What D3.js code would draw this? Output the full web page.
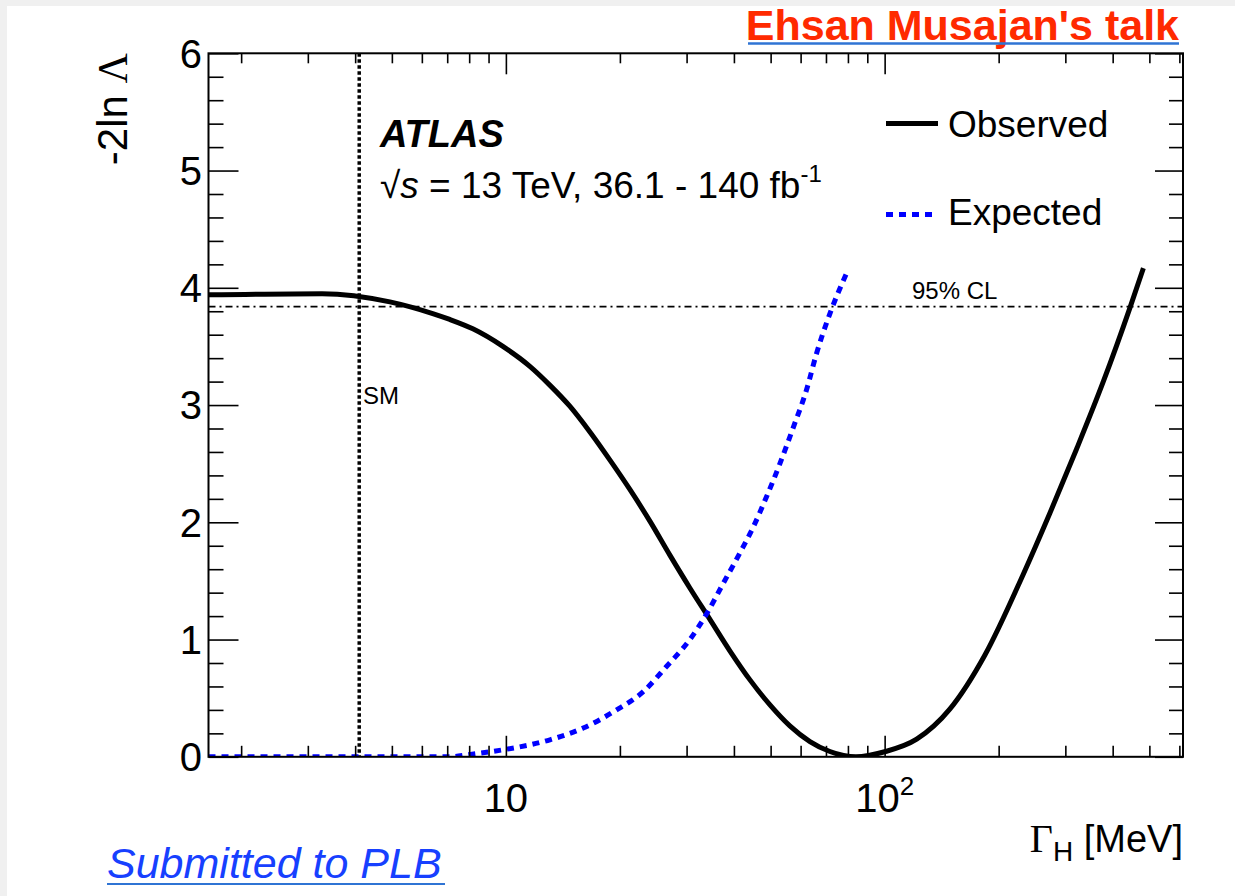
<!DOCTYPE html>
<html><head><meta charset="utf-8">
<script src="https://cdn.jsdelivr.net/npm/d3@7/dist/d3.min.js"></script>
<style>body{margin:0;background:#fff;} svg{display:block;font-family:"Liberation Sans",Arial,Helvetica,sans-serif;}</style>
</head><body>
<svg id="c" width="1235" height="896"></svg>
<script>
// ---- data ----
const obsGamma = [1.64, 3.27, 4.94, 6.41, 7.11, 8.18, 9.82, 11.57, 13.06, 14.75, 16.67, 18.83, 21.25, 24.0, 27.1, 30.6, 34.6, 39.1, 44.1, 49.8, 56.2, 63.5, 71.7, 84.0, 100, 121.5, 148.6, 184, 232, 273, 321, 378, 444, 482];
const obsNLL   = [3.94, 3.95, 3.88, 3.78, 3.73, 3.65, 3.50, 3.33, 3.17, 2.99, 2.77, 2.53, 2.28, 2.01, 1.72, 1.44, 1.17, 0.90, 0.656, 0.443, 0.264, 0.13, 0.045, 0.0, 0.043, 0.15, 0.406, 0.868, 1.553, 2.077, 2.623, 3.201, 3.827, 4.167];
const expGamma = [1.64, 7.11, 8.03, 9.84, 13.07, 16.0, 19.6, 23.05, 26.55, 30.6, 33.9, 37.5, 41.5, 45.0, 48.8, 52.9, 57.4, 62.2, 66.1, 71.7, 80.0];
const expNLL   = [0.0, 0.0, 0.02, 0.06, 0.145, 0.245, 0.40, 0.556, 0.77, 1.0, 1.22, 1.48, 1.74, 1.96, 2.22, 2.50, 2.81, 3.13, 3.44, 3.78, 4.15];
const yTickValues = [0, 1, 2, 3, 4, 5, 6];
const yTickLabels = ["0", "1", "2", "3", "4", "5", "6"];
const xMajorValues = [10, 100];
const xTickLabels = [{base: "10", sup: ""}, {base: "10", sup: "2"}];
const cl95 = 3.84;
const smWidth = 4.1;
const legendLabels = ["Observed", "Expected"];

// ---- layout ----
const L = 208.5, R = 1183, T = 53.3, B = 756.8;
const svg = d3.select("#c");
const x = d3.scaleLog().domain([1.64, 613.4]).range([L, R]);
const y = d3.scaleLinear().domain([0, 6]).range([B, T]);

// page background strips
svg.append("rect").attr("x", 0).attr("y", 0).attr("width", 1235).attr("height", 6).attr("fill", "#f0f0f0");
svg.append("rect").attr("x", 0).attr("y", 0).attr("width", 7).attr("height", 896).attr("fill", "#f0f0f0");

svg.append("clipPath").attr("id", "clip").append("rect")
  .attr("x", L).attr("y", T).attr("width", R - L).attr("height", B - T);
const plot = svg.append("g").attr("clip-path", "url(#clip)");

// 95% CL line
plot.append("line").attr("x1", L).attr("x2", R).attr("y1", y(cl95)).attr("y2", y(cl95))
  .attr("stroke", "#000").attr("stroke-width", 1.8).attr("stroke-dasharray", "7,4,2,4");
// SM line
plot.append("line").attr("x1", x(smWidth)).attr("x2", x(smWidth)).attr("y1", T).attr("y2", B)
  .attr("stroke", "#000").attr("stroke-width", 3.5).attr("stroke-dasharray", "3.5,2.5");

const line = d3.line().x(d => x(d[0])).y(d => y(d[1])).curve(d3.curveMonotoneX);
plot.append("path").datum(d3.zip(obsGamma, obsNLL)).attr("d", line)
  .attr("fill", "none").attr("stroke", "#000").attr("stroke-width", 5).attr("stroke-linejoin", "round");
plot.append("path").datum(d3.zip(expGamma, expNLL)).attr("d", line)
  .attr("fill", "none").attr("stroke", "#0000ff").attr("stroke-width", 5).attr("stroke-dasharray", "7,6");

// frame
svg.append("rect").attr("x", L).attr("y", T).attr("width", R - L).attr("height", B - T)
  .attr("fill", "none").attr("stroke", "#000").attr("stroke-width", 2);

// ticks via d3 axes
const xMinor = [];
[1, 10, 100].forEach(dec => { for (let k = 2; k <= 9; k++) { const v = k * dec; if (v > 1.64 && v < 613.4) xMinor.push(v); } });
const yMinor = d3.range(0, 30).map(i => i * 0.2).filter(v => Math.abs(v - Math.round(v)) > 1e-6);

function styleAxis(g) { g.select(".domain").remove(); g.selectAll("line").attr("stroke", "#000").attr("stroke-width", 1.6); g.selectAll("text").remove(); }
svg.append("g").attr("transform", `translate(0,${B})`).call(d3.axisTop(x).tickValues(xMajorValues).tickSize(21).tickFormat("")).call(styleAxis);
svg.append("g").attr("transform", `translate(0,${B})`).call(d3.axisTop(x).tickValues(xMinor).tickSize(11).tickFormat("")).call(styleAxis);
svg.append("g").attr("transform", `translate(0,${T})`).call(d3.axisBottom(x).tickValues(xMajorValues).tickSize(21).tickFormat("")).call(styleAxis);
svg.append("g").attr("transform", `translate(0,${T})`).call(d3.axisBottom(x).tickValues(xMinor).tickSize(10).tickFormat("")).call(styleAxis);
svg.append("g").attr("transform", `translate(${L},0)`).call(d3.axisRight(y).tickValues(yTickValues).tickSize(30).tickFormat("")).call(styleAxis);
svg.append("g").attr("transform", `translate(${L},0)`).call(d3.axisRight(y).tickValues(yMinor).tickSize(15).tickFormat("")).call(styleAxis);
svg.append("g").attr("transform", `translate(${R},0)`).call(d3.axisLeft(y).tickValues(yTickValues).tickSize(28).tickFormat("")).call(styleAxis);
svg.append("g").attr("transform", `translate(${R},0)`).call(d3.axisLeft(y).tickValues(yMinor).tickSize(14).tickFormat("")).call(styleAxis);

// tick labels
svg.selectAll("text.ylab").data(yTickValues).join("text").attr("class", "ylab")
  .attr("x", 202).attr("y", d => y(d)).attr("dy", "0.36em").attr("text-anchor", "end")
  .attr("font-size", 40).text((d, i) => yTickLabels[i]);
xMajorValues.forEach((v, i) => {
  const t = svg.append("text").attr("x", x(v)).attr("y", 812).attr("text-anchor", "middle").attr("font-size", 40);
  t.append("tspan").text(xTickLabels[i].base);
  if (xTickLabels[i].sup) t.append("tspan").attr("font-size", 26).attr("dy", -17).text(xTickLabels[i].sup);
});

// axis titles
const yt = svg.append("text").attr("transform", "translate(127,53) rotate(-90)").attr("text-anchor", "end").attr("font-size", 42);
yt.append("tspan").text("-2ln ");
yt.append("tspan").attr("font-family", "'Liberation Serif','DejaVu Serif',serif").text("Λ");
const xt = svg.append("text").attr("x", R).attr("y", 852).attr("text-anchor", "end").attr("font-size", 38);
xt.append("tspan").attr("font-family", "'Liberation Serif','DejaVu Serif',serif").attr("font-size", 40).text("Γ");
xt.append("tspan").attr("font-size", 28).attr("dy", 9).text("H");
xt.append("tspan").attr("dy", -9).text(" [MeV]");

// labels in plot
svg.append("text").attr("x", 380).attr("y", 147).attr("font-size", 38).attr("font-weight", "bold").attr("font-style", "italic").text("ATLAS");
const en = svg.append("text").attr("x", 380).attr("y", 198).attr("font-size", 37);
en.append("tspan").text("√");
en.append("tspan").attr("font-style", "italic").text("s");
en.append("tspan").text(" = 13 TeV, 36.1 - 140 fb");
en.append("tspan").attr("font-size", 24).attr("dy", -16).text("-1");
svg.append("text").attr("x", 363).attr("y", 404).attr("font-size", 24).text("SM");
svg.append("text").attr("x", 912).attr("y", 299).attr("font-size", 24).text("95% CL");

// legend
svg.append("line").attr("x1", 886).attr("x2", 938).attr("y1", 123.5).attr("y2", 123.5).attr("stroke", "#000").attr("stroke-width", 5);
svg.append("line").attr("x1", 886).attr("x2", 934).attr("y1", 214.5).attr("y2", 214.5).attr("stroke", "#0000ff").attr("stroke-width", 5).attr("stroke-dasharray", "7,6");
svg.append("text").attr("x", 948).attr("y", 136.5).attr("font-size", 37).text(legendLabels[0]);
svg.append("text").attr("x", 948).attr("y", 225).attr("font-size", 37).text(legendLabels[1]);

// page annotations
svg.append("text").attr("x", 1179).attr("y", 40).attr("text-anchor", "end").attr("font-size", 43).attr("font-weight", "bold").attr("fill", "#ff2a00").text("Ehsan Musajan's talk");
svg.append("line").attr("x1", 748).attr("x2", 1179).attr("y1", 43.5).attr("y2", 43.5).attr("stroke", "#2f74d4").attr("stroke-width", 2.5);
svg.append("text").attr("x", 107).attr("y", 878).attr("font-size", 43).attr("font-style", "italic").attr("fill", "#1740ff").text("Submitted to PLB");
svg.append("line").attr("x1", 107).attr("x2", 445).attr("y1", 884).attr("y2", 884).attr("stroke", "#2f74d4").attr("stroke-width", 2);
</script>
</body></html>
